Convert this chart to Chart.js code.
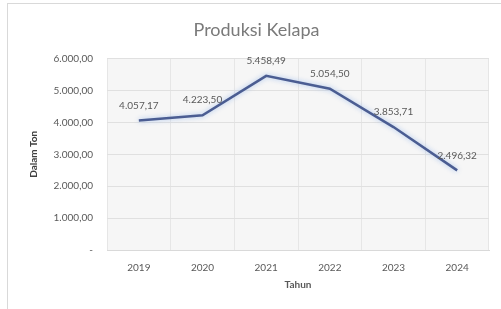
<!DOCTYPE html>
<html>
<head>
<meta charset="utf-8">
<script src="https://cdn.jsdelivr.net/npm/chart.js@4/dist/chart.umd.min.js"></script>
<style>
html,body{margin:0;padding:0;background:#fff;}
#wrap{position:relative;width:501px;height:309px;overflow:hidden;}
#frame{position:absolute;left:7px;top:3px;width:500px;height:320px;border-top:1px solid #d9d9d9;border-left:1px solid #d9d9d9;pointer-events:none;}
canvas{position:absolute;left:0;top:0;}
</style>
</head>
<body>
<div id="wrap">
<canvas id="c" width="501" height="309"></canvas>
<div id="frame"></div>
</div>
<script>
const years = ['2019', '2020', '2021', '2022', '2023', '2024'];
const produksi = [4057.17, 4223.50, 5458.49, 5054.50, 3853.71, 2496.32];
const yTicks = [0, 1000, 2000, 3000, 4000, 5000, 6000];

function fmt(v) {
  if (v === 0) return '-';
  const parts = v.toFixed(2).split('.');
  const intPart = parts[0].replace(/\B(?=(\d{3})+(?!\d))/g, '.');
  return intPart + ',' + parts[1];
}

const plotBg = {
  id: 'plotBg',
  beforeDraw(chart) {
    const a = chart.chartArea, ctx = chart.ctx;
    ctx.save();
    ctx.fillStyle = '#f6f6f6';
    ctx.fillRect(a.left, a.top, a.right - a.left, a.bottom - a.top);
    ctx.restore();
  }
};

const glow = {
  id: 'glow',
  beforeDatasetDraw(chart) {
    chart.ctx.save();
    chart.ctx.shadowColor = 'rgba(150,185,235,0.85)';
    chart.ctx.shadowBlur = 5;
  },
  afterDatasetDraw(chart) {
    chart.ctx.restore();
  }
};

const dataLabels = {
  id: 'dataLabels',
  afterDatasetsDraw(chart) {
    const ctx = chart.ctx;
    const meta = chart.getDatasetMeta(0);
    const ds = chart.data.datasets[0];
    ctx.save();
    ctx.font = '10px Lato';
    ctx.fillStyle = '#595959';
    ctx.textAlign = 'center';
    ctx.textBaseline = 'middle';
    meta.data.forEach((el, i) => {
      ctx.fillText(fmt(ds.data[i]), el.x, el.y - 15);
    });
    ctx.restore();
  }
};

new Chart(document.getElementById('c'), {
  type: 'line',
  data: {
    labels: years,
    datasets: [{
      label: 'Produksi Kelapa',
      data: produksi,
      borderColor: '#4b5d92',
      borderWidth: 2.5,
      pointRadius: 0,
      tension: 0,
      fill: false
    }]
  },
  options: {
    responsive: false,
    devicePixelRatio: 1,
    animation: false,
    layout: { padding: { left: 24, right: 12, top: 0, bottom: 14 } },
    plugins: {
      legend: { display: false },
      tooltip: { enabled: false },
      title: {
        display: true,
        text: 'Produksi Kelapa',
        color: '#7a7a7a',
        font: { family: 'Lato', size: 18, weight: 'normal' },
        padding: { top: 19, bottom: 18 }
      }
    },
    scales: {
      x: {
        offset: true,
        grid: { color: '#e6e6e6', offset: true, drawTicks: false },
        border: { display: true, color: '#d9d9d9' },
        ticks: { padding: 12, color: '#595959', font: { family: 'Lato', size: 10 } },
        title: { display: true, text: 'Tahun', color: '#595959', font: { family: 'Lato', size: 10, weight: 'bold' }, padding: { top: 4, bottom: 4 } },
        afterFit(s) { s.height = 45; }
      },
      y: {
        min: 0,
        max: 6000,
        afterBuildTicks(s) { s.ticks = yTicks.map(v => ({ value: v })); },
        grid: { color: '#e0e0e0', drawTicks: false },
        border: { display: false },
        ticks: { padding: 14, color: '#595959', font: { family: 'Lato', size: 10 }, callback: v => fmt(v) },
        title: { display: true, text: 'Dalam Ton', color: '#404040', font: { family: 'Lato', size: 10, weight: 'bold' }, padding: { top: 4, bottom: 4 } },
        afterFit(s) { s.width = 83; }
      }
    }
  },
  plugins: [plotBg, glow, dataLabels]
});
</script>
</body>
</html>
